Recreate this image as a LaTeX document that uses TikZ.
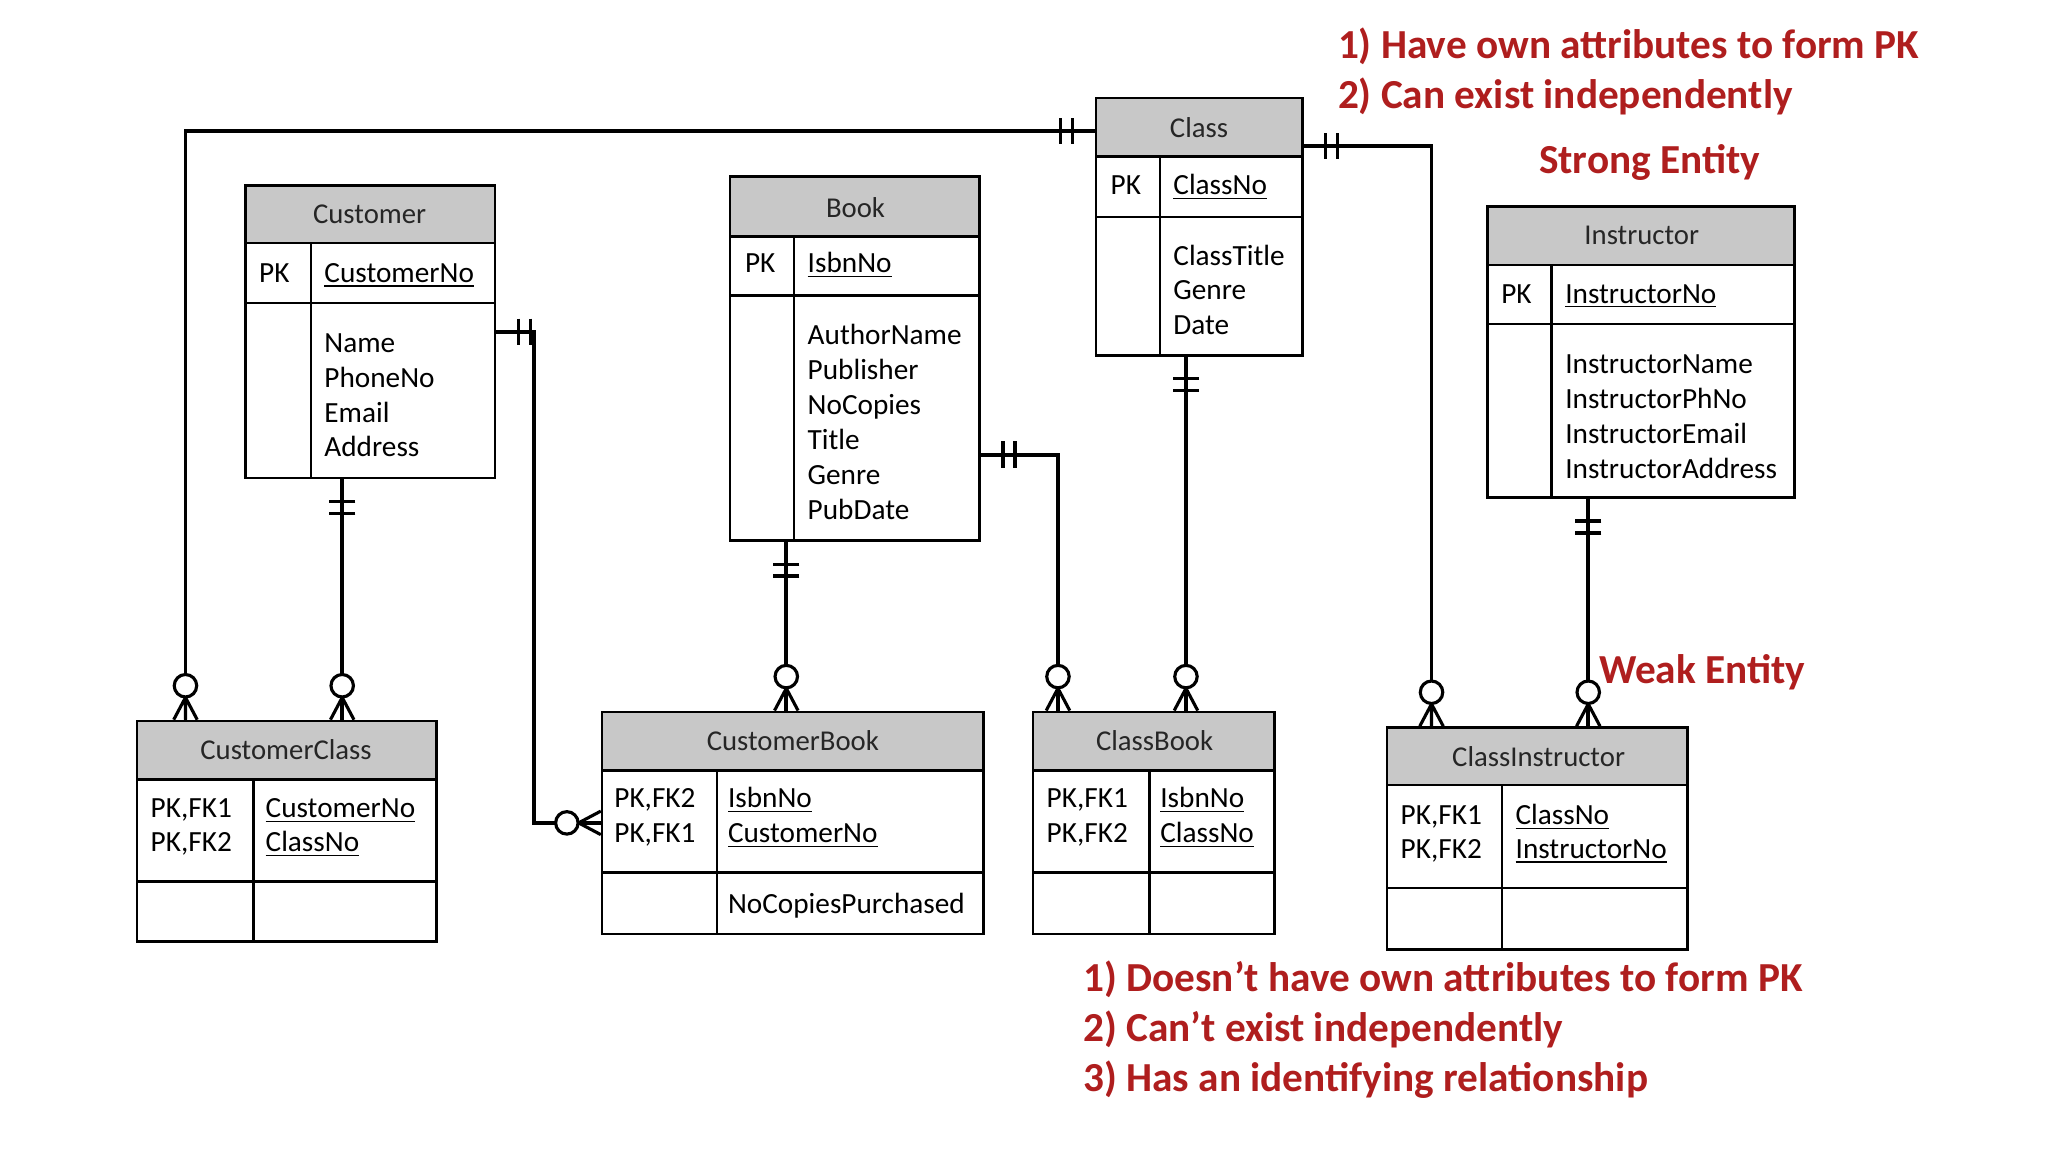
\documentclass[tikz,border=0pt]{standalone}
\usepackage{fontspec}
\setmainfont{Carlito}
\usetikzlibrary{fit}

\definecolor{hdrgray}{RGB}{200,200,200}
\definecolor{notered}{RGB}{175,30,30}

\tikzset{
  tbl/.style={draw, line width=1pt, inner sep=0pt},
  hdrtxt/.style={text=black!85, font=\fontsize{11}{13}\selectfont},
  fld/.style={anchor=base west, inner sep=0pt, font=\fontsize{11.2}{13}\selectfont},
  link/.style={line width=1.5pt},
  note/.style={anchor=base west, inner sep=0pt, text=notered, font=\fontsize{15.8}{19}\selectfont\bfseries},
  mustone/.pic={\draw[line width=1.3pt] (17,-10) -- (17,10) (26,-10) -- (26,10);},
  zeromany/.pic={\draw[line width=1.2pt] (0,-9) -- (17,0) -- (0,9) (0,0) -- (17,0);
                 \draw[line width=1.2pt, fill=white] (26,0) circle (4.3pt);}
}

% table: name, left, top, right, bottom, header line, key line, divider
\newcommand{\ertable}[8]{%
  \fill[hdrgray] (#2,#3) rectangle (#4,#6);
  \draw[line width=1pt] (#2,#6) -- (#4,#6) (#2,#7) -- (#4,#7) (#8,#6) -- (#8,#5);
  \node[tbl, fit={(#2,#3) (#4,#5)}] (#1) {};
}

\begin{document}
\begin{tikzpicture}[x=0.5pt, y=-0.5pt]
  \useasboundingbox (0,0) rectangle (1568,896);

  % strong entities
  \ertable{customer}{188}{142}{379}{366}{186}{232}{238}
  \node[hdrtxt] (customer-t) at (283,164) {Customer};
  \node[fld] (customer-pk) at (198,216) {PK};
  \node[fld] (customer-key) at (248,216) {\underline{CustomerNo}};
  \foreach \f [count=\i from 0] in {Name,PhoneNo,Email,Address}
    \node[fld] (customer-a\i) at (248,{270+26.6*\i}) {\f};

  \ertable{book}{559}{135}{750}{414}{181}{226}{608}
  \node[hdrtxt] (book-t) at (655,159) {Book};
  \node[fld] (book-pk) at (570,209) {PK};
  \node[fld] (book-key) at (618,209) {\underline{IsbnNo}};
  \foreach \f [count=\i from 0] in {AuthorName,Publisher,NoCopies,Title,Genre,PubDate}
    \node[fld] (book-a\i) at (618,{264+26.8*\i}) {\f};

  \ertable{class}{839}{75}{997}{272}{120}{166}{888}
  \node[hdrtxt] (class-t) at (918,98) {Class};
  \node[fld] (class-pk) at (850,149) {PK};
  \node[fld] (class-key) at (898,149) {\underline{ClassNo}};
  \foreach \f [count=\i from 0] in {ClassTitle,Genre,Date}
    \node[fld] (class-a\i) at (898,{203+26.5*\i}) {\f};

  \ertable{instructor}{1139}{158}{1374}{381}{203}{248}{1188}
  \node[hdrtxt] (instructor-t) at (1257,180) {Instructor};
  \node[fld] (instructor-pk) at (1149,232) {PK};
  \node[fld] (instructor-key) at (1198,232) {\underline{InstructorNo}};
  \foreach \f [count=\i from 0] in {InstructorName,InstructorPhNo,InstructorEmail,InstructorAddress}
    \node[fld] (instructor-a\i) at (1198,{286+26.7*\i}) {\f};

  % weak entities
  \ertable{custclass}{105}{552}{334}{721}{597}{675}{194}
  \node[hdrtxt] (custclass-t) at (219,574) {CustomerClass};
  \node[fld] (custclass-k1) at (115,626) {PK,FK1};
  \node[fld] (custclass-k2) at (115,652) {PK,FK2};
  \node[fld] (custclass-f1) at (203,626) {\underline{CustomerNo}};
  \node[fld] (custclass-f2) at (203,652) {\underline{ClassNo}};

  \ertable{custbook}{461}{545}{753}{715}{590}{668}{549}
  \node[hdrtxt] (custbook-t) at (607,567) {CustomerBook};
  \node[fld] (custbook-k1) at (470,618) {PK,FK2};
  \node[fld] (custbook-k2) at (470,645) {PK,FK1};
  \node[fld] (custbook-f1) at (557,618) {\underline{IsbnNo}};
  \node[fld] (custbook-f2) at (557,645) {\underline{CustomerNo}};
  \node[fld] (custbook-a0) at (557,699) {NoCopiesPurchased};

  \ertable{classbook}{791}{545}{976}{715}{590}{668}{880}
  \node[hdrtxt] (classbook-t) at (884,567) {ClassBook};
  \node[fld] (classbook-k1) at (801,618) {PK,FK1};
  \node[fld] (classbook-k2) at (801,645) {PK,FK2};
  \node[fld] (classbook-f1) at (888,618) {\underline{IsbnNo}};
  \node[fld] (classbook-f2) at (888,645) {\underline{ClassNo}};

  \ertable{classinstr}{1062}{557}{1292}{727}{601}{680}{1150}
  \node[hdrtxt] (classinstr-t) at (1178,579) {ClassInstructor};
  \node[fld] (classinstr-k1) at (1072,631) {PK,FK1};
  \node[fld] (classinstr-k2) at (1072,657) {PK,FK2};
  \node[fld] (classinstr-f1) at (1160,631) {\underline{ClassNo}};
  \node[fld] (classinstr-f2) at (1160,657) {\underline{InstructorNo}};

  % relationships
  \draw[link] (class.west |- 0,100) -| (custclass.north -| 142,0);
  \draw[link] (customer.south -| 262,0) -- (custclass.north -| 262,0);
  \draw[link] (customer.east |- 0,254) -- ++(29,0) |- (custbook.west |- 0,630);
  \draw[link] (book.south -| 602,0) -- (custbook.north -| 602,0);
  \draw[link] (book.east |- 0,348) -| (classbook.north -| 810,0);
  \draw[link] (class.south -| 908,0) -- (classbook.north -| 908,0);
  \draw[link] (class.east |- 0,112) -| (classinstr.north -| 1096,0);
  \draw[link] (instructor.south -| 1216,0) -- (classinstr.north -| 1216,0);

  % crow's feet
  \pic[rotate=180] at (class.west |- 0,100) {mustone};
  \pic[rotate=90] at (custclass.north -| 142,0) {zeromany};
  \pic[rotate=-90] at (customer.south -| 262,0) {mustone};
  \pic[rotate=90] at (custclass.north -| 262,0) {zeromany};
  \pic at (customer.east |- 0,254) {mustone};
  \pic[rotate=180] at (custbook.west |- 0,630) {zeromany};
  \pic[rotate=-90] at (book.south -| 602,0) {mustone};
  \pic[rotate=90] at (custbook.north -| 602,0) {zeromany};
  \pic at (book.east |- 0,348) {mustone};
  \pic[rotate=90] at (classbook.north -| 810,0) {zeromany};
  \pic[rotate=-90] at (class.south -| 908,0) {mustone};
  \pic[rotate=90] at (classbook.north -| 908,0) {zeromany};
  \pic at (class.east |- 0,112) {mustone};
  \pic[rotate=90] at (classinstr.north -| 1096,0) {zeromany};
  \pic[rotate=-90] at (instructor.south -| 1216,0) {mustone};
  \pic[rotate=90] at (classinstr.north -| 1216,0) {zeromany};

  % notes
  \node[note] (strong1) at (1024,45) {1) Have own attributes to form PK};
  \node[note] (strong2) at (1024,83) {2) Can exist independently};
  \node[note] (strong) at (1178,133) {Strong Entity};
  \node[note] (weak) at (1224,523) {Weak Entity};
  \node[note] (weak1) at (829,759) {1) Doesn’t have own attributes to form PK};
  \node[note] (weak2) at (829,797) {2) Can’t exist independently};
  \node[note] (weak3) at (829,836) {3) Has an identifying relationship};
\end{tikzpicture}
\end{document}
